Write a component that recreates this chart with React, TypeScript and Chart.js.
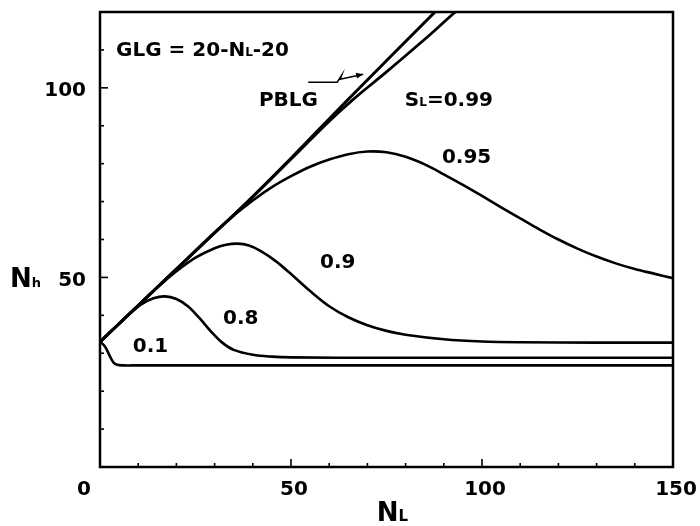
import React, { useEffect, useRef } from "react";
import { Chart, registerables } from "chart.js";
Chart.register(...registerables);

// ---- data (NL on x, Nh on y) ----
const pblgNL = [0, 5, 10, 15, 20, 25, 30, 34, 40, 50, 65, 87.7, 100];
const pblgNh = [33, 37.8, 42.6, 47.4, 52.2, 57, 61.8, 65.5, 71.3, 81.4, 97, 120, 132.5];

const s099NL = [0, 5, 10, 15, 20, 25, 30, 34, 40, 50, 60, 66, 75, 85, 93, 100];
const s099Nh = [33, 37.8, 42.6, 47.4, 52.2, 57, 61.8, 65.5, 71.3, 81.2, 91.2, 96.7, 104.2, 112.8, 120, 126];

const s095NL = [0, 5, 10, 15, 20, 25, 30, 35, 40, 45, 50, 55, 60, 65, 70, 75, 80, 85, 90, 95, 100, 105, 110, 115, 120, 125, 130, 135, 140, 145, 150];
const s095Nh = [33, 37.8, 42.6, 47.4, 52.2, 57, 61.7, 66.3, 70.3, 73.8, 76.7, 79.2, 81.1, 82.5, 83.2, 83.0, 81.8, 79.8, 77.2, 74.4, 71.5, 68.5, 65.6, 62.7, 60.0, 57.6, 55.5, 53.7, 52.2, 51.0, 49.8];

const s090NL = [0, 5, 10, 15, 20, 25, 30, 33, 36, 39, 42, 46, 50, 55, 60, 65, 70, 75, 80, 90, 100, 110, 130, 150];
const s090Nh = [33, 37.8, 42.6, 47.3, 51.6, 55.2, 57.7, 58.6, 58.9, 58.4, 57.0, 54.3, 50.9, 46.4, 42.4, 39.5, 37.4, 35.9, 34.9, 33.7, 33.1, 32.9, 32.8, 32.8];

const s080NL = [0, 5, 8, 11, 14, 17, 20, 23, 26, 29, 32, 35, 40, 45, 50, 75, 100, 125, 150];
const s080Nh = [33, 37.8, 40.6, 43.0, 44.5, 45.0, 44.3, 42.4, 39.3, 35.8, 32.8, 30.9, 29.6, 29.1, 28.9, 28.8, 28.8, 28.8, 28.8];

const s010NL = [0, 1.3, 2.6, 3.5, 4.5, 6, 10, 40, 80, 120, 150];
const s010Nh = [33.1, 31.8, 29.2, 27.6, 26.95, 26.8, 26.8, 26.8, 26.8, 26.8, 26.8];

const xTickValues = [0, 50, 100, 150];
const xTickLabels = ["0", "50", "100", "150"];
const yTickValues = [50, 100];
const yTickLabels = ["50", "100"];

const curveLabels = ["0.1", "0.8", "0.9", "0.95"];
const curveLabelNL = [8.6, 32.2, 57.6, 89.5];
const curveLabelNh = [30.2, 37.6, 52.6, 80.2];

const arrowNL = [54.5, 62.1, 63.3, 62.9, 68.9];
const arrowNh = [101.5, 101.5, 103.4, 102.3, 103.6];

const FONT = '"DejaVu Sans", sans-serif';

type Part = { t: string; size: number };

function drawParts(ctx: CanvasRenderingContext2D, parts: Part[], x: number, y: number, align: "left" | "center" | "right") {
  let total = 0;
  const widths = parts.map((p) => {
    ctx.font = `bold ${p.size}px ${FONT}`;
    const w = ctx.measureText(p.t).width;
    total += w;
    return w;
  });
  let cx = align === "left" ? x : align === "center" ? x - total / 2 : x - total;
  ctx.textAlign = "left";
  ctx.textBaseline = "alphabetic";
  parts.forEach((p, i) => {
    ctx.font = `bold ${p.size}px ${FONT}`;
    ctx.fillText(p.t, cx, y);
    cx += widths[i];
  });
}

function toXY(xs: number[], ys: number[]) {
  return xs.map((x, i) => ({ x, y: ys[i] }));
}

const decorPlugin = {
  id: "decor",
  afterDraw(chart: any) {
    const ctx: CanvasRenderingContext2D = chart.ctx;
    const xs = chart.scales.x;
    const ys = chart.scales.y;
    const a = chart.chartArea;
    ctx.save();
    ctx.strokeStyle = "#000";
    ctx.fillStyle = "#000";
    // frame
    ctx.lineWidth = 2.5;
    ctx.strokeRect(a.left, a.top, a.right - a.left, a.bottom - a.top);
    // ticks (inward)
    ctx.lineWidth = 1.6;
    for (let v = 10; v < 150; v += 10) {
      const px = xs.getPixelForValue(v);
      const len = v % 50 === 0 ? 8 : 4;
      ctx.beginPath();
      ctx.moveTo(px, a.bottom);
      ctx.lineTo(px, a.bottom - len);
      ctx.stroke();
    }
    for (let v = 10; v < 120; v += 10) {
      const py = ys.getPixelForValue(v);
      const len = v % 50 === 0 ? 8 : 4;
      ctx.beginPath();
      ctx.moveTo(a.left, py);
      ctx.lineTo(a.left + len, py);
      ctx.stroke();
    }
    // tick labels
    xTickValues.forEach((v, i) => {
      const px = xs.getPixelForValue(v) + (v === 0 ? -16 : 3);
      drawParts(ctx, [{ t: xTickLabels[i], size: 20 }], px, a.bottom + 28, "center");
    });
    yTickValues.forEach((v, i) => {
      const py = ys.getPixelForValue(v);
      drawParts(ctx, [{ t: yTickLabels[i], size: 20 }], a.left - 14, py + 8.5, "right");
    });
    // axis titles
    drawParts(ctx, [{ t: "N", size: 26 }, { t: "h", size: 13 }], 10, ys.getPixelForValue(50) + 10, "left");
    drawParts(ctx, [{ t: "N", size: 26 }, { t: "L", size: 15 }], (a.left + a.right) / 2 + 6, a.bottom + 54, "center");
    // curve labels
    curveLabels.forEach((t, i) => {
      drawParts(ctx, [{ t, size: 20 }], xs.getPixelForValue(curveLabelNL[i]), ys.getPixelForValue(curveLabelNh[i]), "left");
    });
    // annotations
    drawParts(
      ctx,
      [
        { t: "GLG = 20-N", size: 20 },
        { t: "L", size: 12 },
        { t: "-20", size: 20 },
      ],
      xs.getPixelForValue(4.2),
      ys.getPixelForValue(108.5),
      "left"
    );
    drawParts(ctx, [{ t: "PBLG", size: 20 }], xs.getPixelForValue(41.6), ys.getPixelForValue(95.2), "left");
    drawParts(
      ctx,
      [
        { t: "S", size: 20 },
        { t: "L", size: 12 },
        { t: "=0.99", size: 20 },
      ],
      xs.getPixelForValue(79.8),
      ys.getPixelForValue(95.2),
      "left"
    );
    // PBLG arrow
    ctx.lineWidth = 1.5;
    ctx.beginPath();
    arrowNL.forEach((v, i) => {
      const px = xs.getPixelForValue(v);
      const py = ys.getPixelForValue(arrowNh[i]);
      if (i === 0) ctx.moveTo(px, py);
      else ctx.lineTo(px, py);
    });
    ctx.stroke();
    const n = arrowNL.length;
    const ex = xs.getPixelForValue(arrowNL[n - 1]);
    const ey = ys.getPixelForValue(arrowNh[n - 1]);
    const sx = xs.getPixelForValue(arrowNL[n - 2]);
    const sy = ys.getPixelForValue(arrowNh[n - 2]);
    const ang = Math.atan2(ey - sy, ex - sx);
    ctx.beginPath();
    ctx.moveTo(ex, ey);
    ctx.lineTo(ex - 7 * Math.cos(ang) + 3 * Math.sin(ang), ey - 7 * Math.sin(ang) - 3 * Math.cos(ang));
    ctx.lineTo(ex - 7 * Math.cos(ang) - 3 * Math.sin(ang), ey - 7 * Math.sin(ang) + 3 * Math.cos(ang));
    ctx.closePath();
    ctx.fill();
    ctx.restore();
  },
};

export default function App() {
  const ref = useRef<HTMLCanvasElement | null>(null);
  useEffect(() => {
    if (!ref.current) return;
    const mk = (xs: number[], ys: number[], w: number) => ({
      data: toXY(xs, ys),
      borderColor: "#000",
      backgroundColor: "#000",
      borderWidth: w,
      pointRadius: 0,
      fill: false,
      tension: 0.35,
      borderJoinStyle: "round" as const,
      borderCapStyle: "round" as const,
    });
    const chart = new Chart(ref.current, {
      type: "line",
      data: {
        datasets: [
          { label: "PBLG", ...mk(pblgNL, pblgNh, 3) },
          { label: "0.99", ...mk(s099NL, s099Nh, 2.8) },
          { label: "0.95", ...mk(s095NL, s095Nh, 2.6) },
          { label: "0.9", ...mk(s090NL, s090Nh, 2.6) },
          { label: "0.8", ...mk(s080NL, s080Nh, 2.6) },
          { label: "0.1", ...mk(s010NL, s010Nh, 2.6) },
        ],
      },
      options: {
        animation: false,
        responsive: false,
        events: [],
        layout: { padding: { left: 100, right: 27, top: 12, bottom: 59 } },
        plugins: { legend: { display: false }, tooltip: { enabled: false } },
        scales: {
          x: { type: "linear", min: 0, max: 150, display: false },
          y: { type: "linear", min: 0, max: 120, display: false },
        },
      },
      plugins: [decorPlugin],
    });
    return () => chart.destroy();
  }, []);
  return (
    <div style={{ position: "fixed", left: 0, top: 0, width: 700, height: 526, background: "#fff" }}>
      <canvas ref={ref} width={700} height={526} />
    </div>
  );
}
